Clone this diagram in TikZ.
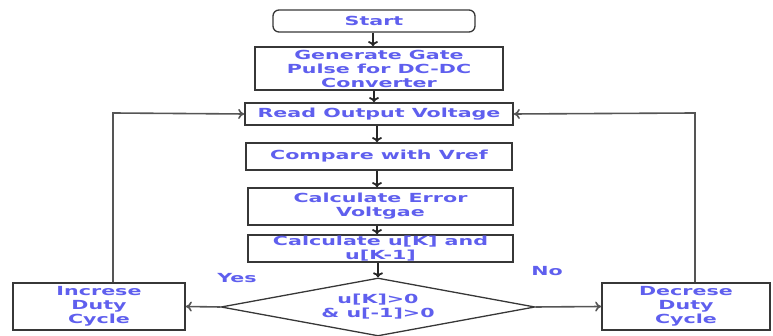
\documentclass[tikz,border=0pt]{standalone}
\usepackage{fontspec}
\usetikzlibrary{shapes.geometric,arrows.meta}
\newfontfamily\lblfont[FakeStretch=1.65]{DejaVu Sans Bold}
\definecolor{txtblue}{RGB}{95,95,238}
\definecolor{boxline}{RGB}{55,55,55}
\definecolor{conline}{RGB}{85,85,85}
\tikzset{
  lbl/.style={font=\lblfont\fontsize{12.5}{14}\selectfont, text=txtblue, align=center},
  procbox/.style={lbl, draw=boxline, line width=1.7pt, rectangle, inner sep=0pt},
  startbox/.style={procbox, rounded corners=6pt, line width=1.3pt},
  decision/.style={lbl, draw=boxline, line width=1.3pt, diamond, inner sep=0pt},
  flow/.style={draw=black!85, line width=1.8pt, -{To[length=5pt,width=10pt]}},
  sideflow/.style={draw=conline, line width=1.6pt, -{To[length=6pt,width=10pt]}},
  answer/.style={lbl}
}
\begin{document}
\begin{tikzpicture}[x=1pt,y=1pt]
\useasboundingbox (0,0) rectangle (773,336);
\node[startbox, minimum width=202, minimum height=22] (start) at (374,315) {Start};
\node[procbox, minimum width=248, minimum height=43] (gen) at (379,267.5) {Generate Gate\\Pulse for DC-DC\\Converter};
\node[procbox, minimum width=268, minimum height=22] (read) at (379,222) {Read Output Voltage};
\node[procbox, minimum width=266, minimum height=27] (cmp) at (379,179.5) {Compare with Vref};
\node[procbox, minimum width=265, minimum height=37] (err) at (380.5,129.5) {Calculate Error\\Voltgae};
\node[procbox, minimum width=265, minimum height=27] (uk) at (380.5,87.5) {Calculate u[K] and\\u[K-1]};
\node[decision, minimum width=314, minimum height=58, shape aspect=5.6] (dec) at (378,29) {u[K]\textgreater0\\\& u[-1]\textgreater0};
\node[procbox, minimum width=172, minimum height=47] (inc) at (99,29.5) {Increse\\Duty\\Cycle};
\node[procbox, minimum width=168, minimum height=47] (dcr) at (686,29.5) {Decrese\\Duty\\Cycle};
\node[answer] (yes) at (237,58) {Yes};
\node[answer] (no) at (547,65) {No};
\coordinate (lt) at (113,223);
\coordinate (rt) at (695,223);
\draw[flow] (start.south -| 373,0) -- (gen.north -| 373,0);
\draw[flow] (gen.south -| 374,0) -- (read.north -| 374,0);
\draw[flow] (read.south -| 377,0) -- (cmp.north -| 377,0);
\draw[flow] (cmp.south -| 377,0) -- (err.north -| 377,0);
\draw[flow] (err.south -| 377,0) -- (uk.north -| 377,0);
\draw[flow] (uk.south -| 378,0) -- (dec.north);
\draw[sideflow] (dec.west) -- (inc.east);
\draw[sideflow] (dec.east) -- (dcr.west);
\draw[sideflow] (inc.north -| lt) -- (lt) -- (read.west);
\draw[sideflow] (dcr.north -| rt) -- (rt) -- (read.east);
\end{tikzpicture}
\end{document}
